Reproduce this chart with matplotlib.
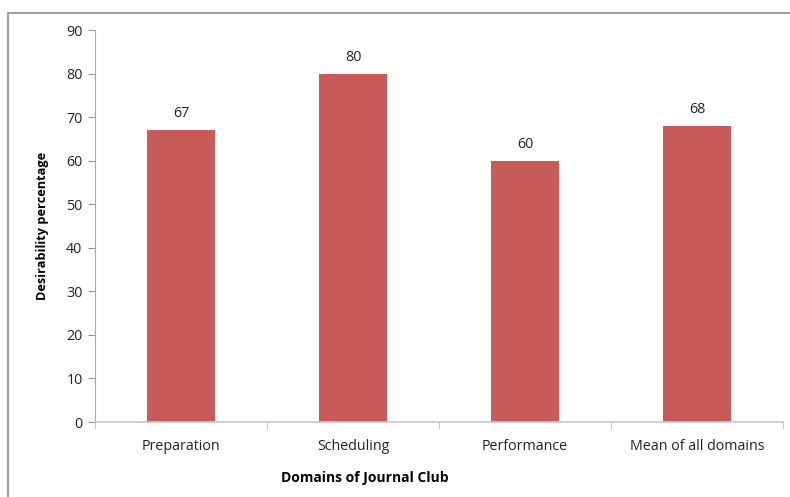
import matplotlib.pyplot as plt
from matplotlib.patches import Rectangle

# Data
domains = ['Preparation', 'Scheduling', 'Performance', 'Mean of all domains']
desirability = [67, 80, 60, 68]
y_ticks = [0, 10, 20, 30, 40, 50, 60, 70, 80, 90]

plt.rcParams['font.family'] = ['Open Sans', 'DejaVu Sans']

fig = plt.figure(figsize=(7.9, 4.97), dpi=100)
ax = fig.add_axes([95 / 790, 1 - 422 / 497, 688 / 790, 392 / 497])

# outer chart border
fig.patches.append(Rectangle((8 / 790, -0.1), 1.2, 1 - 13 / 497 + 0.1,
                             transform=fig.transFigure, fill=False,
                             edgecolor='#8c8c8c', linewidth=1.2))

x = list(range(len(domains)))
bars = ax.bar(x, desirability, width=0.4, color='#C65B58')

for xi, v in zip(x, desirability):
    ax.text(xi, v + 2.0, str(v), ha='center', va='bottom', fontsize=10.3, color='#222222')

ax.set_xlim(-0.5, len(domains) - 0.5)
ax.set_ylim(0, 90)
ax.set_yticks(y_ticks)
ax.set_xticks(x)
ax.set_xticklabels(domains)
ax.set_xticks([i - 0.5 for i in range(len(domains) + 1)], minor=True)

ax.tick_params(axis='y', direction='out', length=5, color='#999999',
               labelsize=10.3, labelcolor='#222222', pad=4)
ax.tick_params(axis='x', which='major', length=0, labelsize=10.3,
               labelcolor='#222222', pad=12)
ax.tick_params(axis='x', which='minor', direction='out', length=5, color='#bbbbbb')

for s in ['top', 'right']:
    ax.spines[s].set_visible(False)
ax.spines['left'].set_color('#aaaaaa')
ax.spines['bottom'].set_color('#c8c8c8')
ax.spines['bottom'].set_linewidth(1.2)

ax.set_ylabel('Desirability percentage', fontsize=9.2, fontweight='bold', labelpad=12)
fig.text(365 / 790, 1 - 478 / 497, 'Domains of Journal Club', ha='center', va='center',
         fontsize=10, fontweight='bold')

fig.savefig('out.png', dpi=100)
